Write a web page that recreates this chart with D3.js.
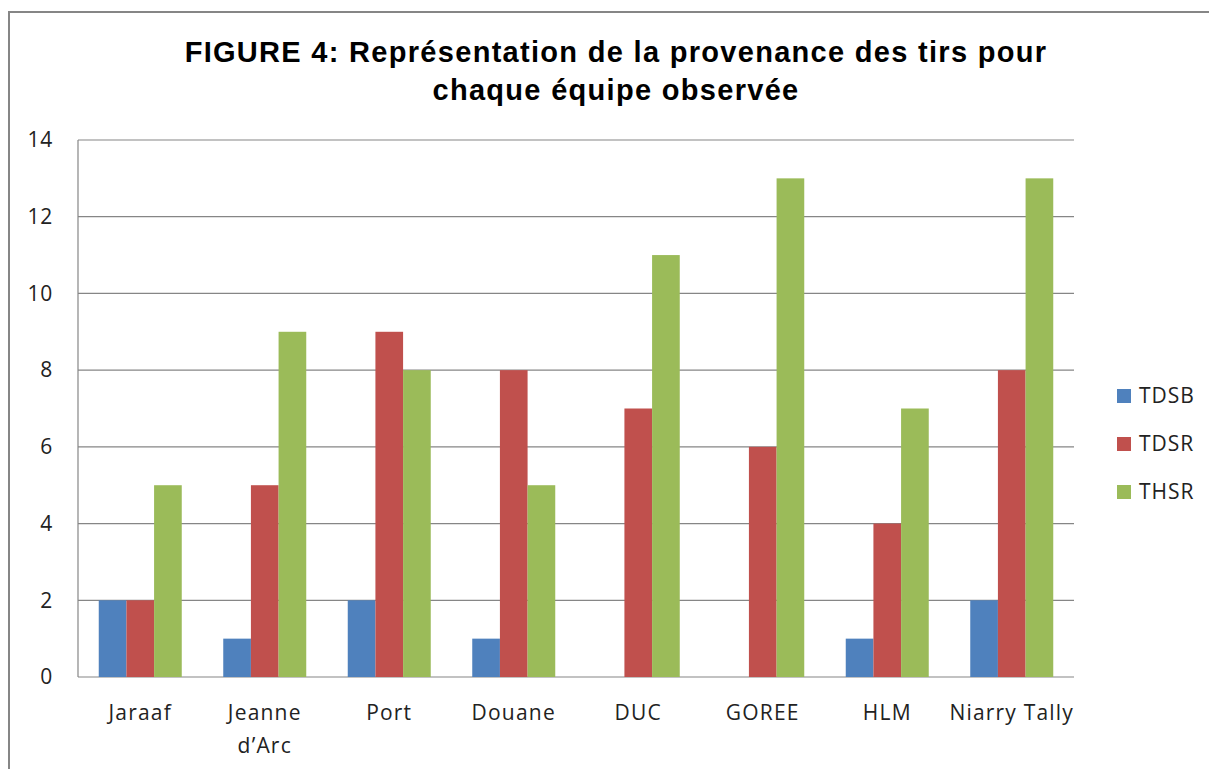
<!DOCTYPE html>
<html><head><meta charset="utf-8">
<script src="https://cdn.jsdelivr.net/npm/d3@7"></script>
<style>body{margin:0;background:#fff}</style>
</head><body>
<svg id="c" width="1209" height="769"></svg>
<script>
const categories = ["Jaraaf", "Jeanne\nd\u2019Arc", "Port", "Douane", "DUC", "GOREE", "HLM", "Niarry Tally"];
const seriesNames = ["TDSB", "TDSR", "THSR"];
const TDSB = [2, 1, 2, 1, 0, 0, 1, 2];
const TDSR = [2, 5, 9, 8, 7, 6, 4, 8];
const THSR = [5, 9, 8, 5, 11, 13, 7, 13];
const colors = ["#4F81BD", "#C0504D", "#9BBB59"];
const yTicks = [0, 2, 4, 6, 8, 10, 12, 14];
const titleLines = ["FIGURE 4: Repr\u00e9sentation de la provenance des tirs pour", "chaque \u00e9quipe observ\u00e9e"];

const svg = d3.select("#c");
const font = "'Open Sans', sans-serif";
svg.append("rect").attr("x", 9).attr("y", 12).attr("width", 1220).attr("height", 800)
  .attr("fill", "#fff").attr("stroke", "#868686").attr("stroke-width", 2);

const L = 78, R = 1074, T = 140, B = 677;
const bw = (R - L) / categories.length / 4.5;   // Excel gap width 150%
const band = (R - L) / categories.length;
const bx = d3.scaleLinear().domain([0, categories.length]).range([L, R]);
const y = d3.scaleLinear().domain([0, 14]).range([B, T]);

svg.append("g").selectAll("line").data(yTicks).join("line")
  .attr("x1", L).attr("x2", R).attr("y1", d => y(d)).attr("y2", d => y(d))
  .attr("stroke", "#868686").attr("stroke-width", 1.2);

const series = [TDSB, TDSR, THSR];
series.forEach((vals, si) => {
  svg.append("g").selectAll("rect").data(vals).join("rect")
    .attr("x", (d, i) => bx(i) + 0.75 * bw + si * bw)
    .attr("width", bw)
    .attr("y", d => y(d))
    .attr("height", d => y(0) - y(d))
    .attr("fill", colors[si]);
});

svg.append("line").attr("x1", L).attr("x2", L).attr("y1", T).attr("y2", B)
  .attr("stroke", "#868686").attr("stroke-width", 1.2);

svg.append("g").selectAll("text").data(yTicks).join("text")
  .attr("x", 53).attr("y", d => y(d)).attr("dy", "0.35em").attr("text-anchor", "end")
  .attr("font-family", font).attr("font-size", 21).attr("letter-spacing", 0.8).attr("fill", "#222").text(d => d);

categories.forEach((c, i) => {
  const t = svg.append("text").attr("x", bx(i) + band / 2).attr("y", 720)
    .attr("text-anchor", "middle").attr("font-family", font).attr("font-size", 21)
    .attr("letter-spacing", 1.2).attr("fill", "#222");
  c.split("\n").forEach((ln, j) => {
    t.append("tspan").attr("x", bx(i) + band / 2).attr("dy", j ? 33 : 0).text(ln);
  });
});

titleLines.forEach((ln, j) => {
  svg.append("text").attr("x", 616).attr("y", 62 + j * 38).attr("text-anchor", "middle")
    .attr("font-family", "Arial, 'Liberation Sans', sans-serif").attr("font-weight", "bold")
    .attr("font-size", 29).attr("letter-spacing", 1.3).attr("fill", "#000").text(ln);
});

seriesNames.forEach((s, i) => {
  const cy = 396 + i * 48;
  svg.append("rect").attr("x", 1117).attr("y", cy - 7).attr("width", 14).attr("height", 14).attr("fill", colors[i]);
  svg.append("text").attr("x", 1139).attr("y", cy).attr("dy", "0.35em")
    .attr("font-family", font).attr("font-size", 21).attr("letter-spacing", 1).attr("fill", "#222").text(s);
});
</script>
</body></html>
